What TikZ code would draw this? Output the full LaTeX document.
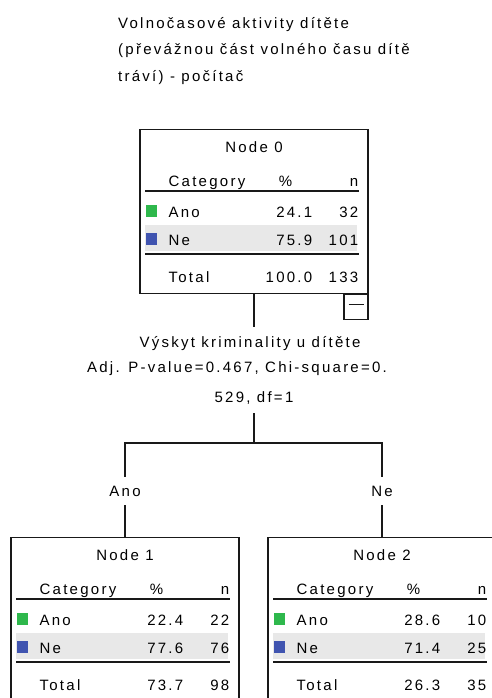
\documentclass[tikz,border=0pt]{standalone}
\usepackage{fontspec}
\newfontfamily\spssfont{Liberation Sans}[LetterSpace=15]
\usetikzlibrary{positioning}

\definecolor{catgreen}{RGB}{46,184,76}
\definecolor{catblue}{RGB}{64,84,176}
\definecolor{rowgray}{RGB}{232,232,232}
\definecolor{treeline}{RGB}{25,25,25}

% one SPSS tree node: #1 number, #2 top centre, #3/#4 Ano, #5/#6 Ne, #7/#8 Total
\newcommand{\nodetable}[8]{%
  \node[frame, anchor=north] (n#1) at (#2) {};
  \fill[rowgray] ([xshift=6pt,yshift=-96pt]n#1.north west) rectangle ([xshift=218pt,yshift=-122pt]n#1.north west);
  \node[cell, anchor=base] (n#1-title) at ([yshift=-23pt]n#1.north) {Node #1};
  \node[cell, anchor=base west] (n#1-cat) at ([xshift=29pt,yshift=-57pt]n#1.north west) {Category};
  \node[cell, anchor=base] (n#1-pct) at ([xshift=146pt,yshift=-57pt]n#1.north west) {\%};
  \node[cell, anchor=base east] (n#1-n) at ([xshift=219pt,yshift=-57pt]n#1.north west) {n};
  \draw[rule] ([xshift=6pt,yshift=-62pt]n#1.north west) -- ([xshift=220pt,yshift=-62pt]n#1.north west);
  \node[swatch, fill=catgreen] (n#1-sqa) at ([xshift=6pt,yshift=-76pt]n#1.north west) {};
  \node[cell, anchor=base west] (n#1-ano) at ([xshift=29pt,yshift=-88pt]n#1.north west) {Ano};
  \node[cell, anchor=base east] (n#1-anop) at ([xshift=173pt,yshift=-88pt]n#1.north west) {#3};
  \node[cell, anchor=base east] (n#1-anon) at ([xshift=219pt,yshift=-88pt]n#1.north west) {#4};
  \node[swatch, fill=catblue] (n#1-sqb) at ([xshift=6pt,yshift=-104pt]n#1.north west) {};
  \node[cell, anchor=base west] (n#1-ne) at ([xshift=29pt,yshift=-116pt]n#1.north west) {Ne};
  \node[cell, anchor=base east] (n#1-nep) at ([xshift=173pt,yshift=-116pt]n#1.north west) {#5};
  \node[cell, anchor=base east] (n#1-nen) at ([xshift=219pt,yshift=-116pt]n#1.north west) {#6};
  \draw[rule] ([xshift=6pt,yshift=-125pt]n#1.north west) -- ([xshift=220pt,yshift=-125pt]n#1.north west);
  \node[cell, anchor=base west] (n#1-tot) at ([xshift=29pt,yshift=-153pt]n#1.north west) {Total};
  \node[cell, anchor=base east] (n#1-totp) at ([xshift=173pt,yshift=-153pt]n#1.north west) {#7};
  \node[cell, anchor=base east] (n#1-totn) at ([xshift=219pt,yshift=-153pt]n#1.north west) {#8};
}

\begin{document}
\begin{tikzpicture}[
  x=1pt, y=-1pt,
  cell/.style={inner sep=0pt, font=\spssfont\fontsize{15}{17}\selectfont},
  frame/.style={draw=treeline, line width=1.1pt, minimum width=228pt, minimum height=164pt, inner sep=0pt},
  swatch/.style={anchor=north west, minimum size=11.5pt, inner sep=0pt},
  rule/.style={draw=treeline, line width=1.1pt},
  link/.style={draw=treeline, line width=1.1pt},
  split/.style={cell, inner ysep=9pt},
  branch/.style={cell, minimum height=28pt},
  fold/.style={draw=treeline, line width=1.1pt, minimum width=24pt, minimum height=25pt, inner sep=0pt}
]
\useasboundingbox[fill=white] (0,0) rectangle (492,698);
\clip (0,0) rectangle (492,698);

\node[cell, anchor=north west, align=left, font=\spssfont\fontsize{15}{26.5}\selectfont] (title) at (118,17)
  {Volnočasové aktivity dítěte\\(převážnou část volného času dítě\\tráví) - počítač};

\nodetable{0}{254,129}{24.1}{32}{75.9}{101}{100.0}{133}
\node[fold, anchor=north east] (n0-fold) at (n0.south east) {};
\draw[rule] ([xshift=-7.5pt,yshift=2.5pt]n0-fold.center) -- ([xshift=7.5pt,yshift=2.5pt]n0-fold.center);

% split variable
\node[split, anchor=base] (split1) at (250,347) {Výskyt kriminality u dítěte};
\node[cell, anchor=base] (split2) at (237,372) {Adj. P-value=0.467, Chi-square=0.};
\node[split, anchor=base] (split3) at (254,402) {529, df=1};
\draw[link] (n0.south) -- (n0.south |- split1.north);

\coordinate (fork) at (254,443);
\node[branch] (lbla) at (125,491) {Ano};
\node[branch] (lblb) at (382,491) {Ne};
\draw[link] (split3) -- (fork);
\draw[link] (fork) -| (lbla);
\draw[link] (fork) -| (lblb);

\nodetable{1}{125,537}{22.4}{22}{77.6}{76}{73.7}{98}
\nodetable{2}{382,537}{28.6}{10}{71.4}{25}{26.3}{35}
\draw[link] (lbla) -- (n1);
\draw[link] (lblb) -- (n2);
\end{tikzpicture}
\end{document}
